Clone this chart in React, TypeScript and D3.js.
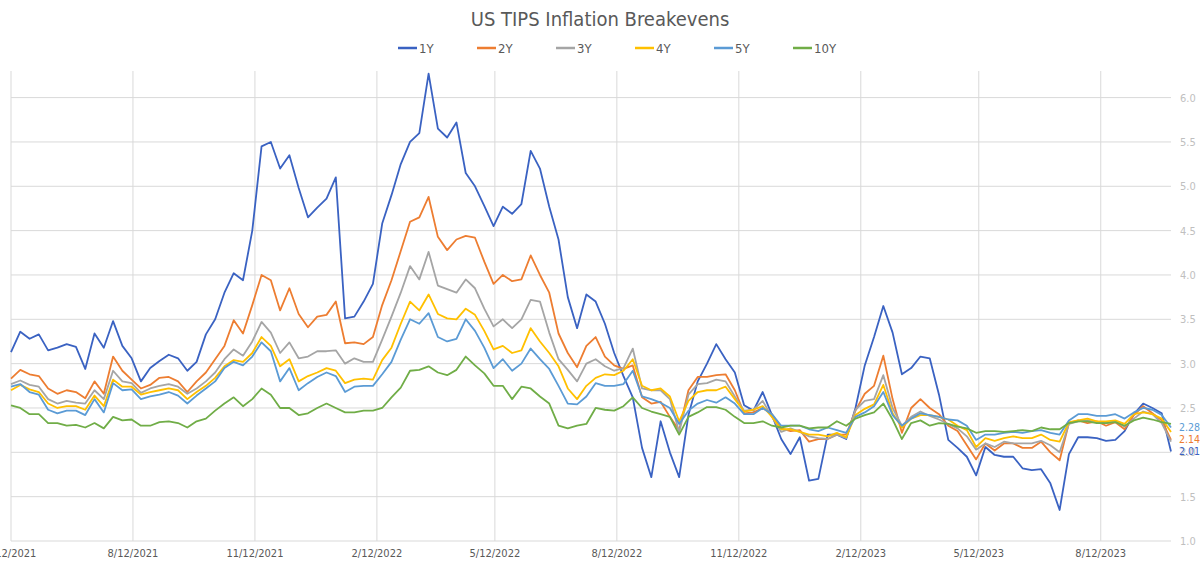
import React from 'react'
import * as d3 from 'd3'

// weekly readings, first one on 5/12/2021
const startDate = new Date(2021, 4, 12)

const oneY = [
  3.13, 3.36, 3.28, 3.33, 3.15, 3.18, 3.22, 3.19, 2.94, 3.34, 3.18,
  3.48, 3.2, 3.06, 2.8, 2.95, 3.03, 3.1, 3.06, 2.92, 3.02,
  3.33, 3.5, 3.8, 4.02, 3.94, 4.5, 5.45, 5.5, 5.2, 5.35,
  4.98, 4.65, 4.76, 4.86, 5.1, 3.51, 3.53, 3.7, 3.9, 4.58,
  4.9, 5.25, 5.5, 5.6, 6.27, 5.65, 5.55, 5.72, 5.15, 5.0,
  4.78, 4.55, 4.77, 4.69, 4.8, 5.4, 5.2, 4.77, 4.4, 3.75,
  3.4, 3.78, 3.7, 3.45, 3.12, 2.86, 2.62, 2.05, 1.72, 2.35,
  2.0, 1.72, 2.42, 2.8, 3.0, 3.22, 3.05, 2.9, 2.53, 2.47,
  2.68, 2.42, 2.15, 1.98, 2.17, 1.68, 1.7, 2.2, 2.2, 2.15,
  2.5, 2.98, 3.3, 3.65, 3.35, 2.88, 2.95, 3.08, 3.06, 2.65,
  2.14, 2.05, 1.95, 1.74, 2.06, 1.97, 1.95, 1.95, 1.82, 1.8,
  1.81, 1.65, 1.35, 1.98, 2.17, 2.17, 2.16, 2.13, 2.14, 2.24,
  2.43, 2.55, 2.5, 2.44, 2.01,
]

const twoY = [
  2.83, 2.93, 2.88, 2.86, 2.72, 2.66, 2.7, 2.68, 2.61, 2.8, 2.66,
  3.08, 2.92, 2.82, 2.72, 2.76, 2.84, 2.85, 2.8, 2.68, 2.8,
  2.9, 3.05, 3.2, 3.49, 3.34, 3.66, 4.0, 3.94, 3.6, 3.85,
  3.56, 3.41, 3.53, 3.55, 3.7, 3.23, 3.24, 3.22, 3.3, 3.66,
  3.94, 4.27, 4.6, 4.65, 4.88, 4.43, 4.28, 4.4, 4.44, 4.42,
  4.15, 3.9, 4.0, 3.93, 3.95, 4.22, 4.0, 3.8, 3.34, 3.12,
  2.96, 3.2, 3.3, 3.08, 2.98, 2.94, 2.98, 2.62, 2.55, 2.57,
  2.4, 2.25, 2.7, 2.85, 2.85, 2.87, 2.88, 2.7, 2.44, 2.45,
  2.5, 2.43, 2.27, 2.24, 2.25, 2.12, 2.15, 2.15, 2.2, 2.2,
  2.47, 2.66, 2.75, 3.09, 2.6, 2.22, 2.5, 2.6, 2.5, 2.43,
  2.3, 2.24, 2.08, 1.92, 2.1, 2.02, 2.1, 2.1, 2.05, 2.05,
  2.12, 2.0, 1.91, 2.33, 2.36, 2.33, 2.35, 2.3, 2.34, 2.26,
  2.42, 2.52, 2.44, 2.36, 2.14,
]

const threeY = [
  2.77, 2.81, 2.76, 2.74, 2.6, 2.55, 2.58, 2.56, 2.55, 2.7, 2.6,
  2.92, 2.8, 2.78, 2.67, 2.72, 2.75, 2.77, 2.74, 2.66, 2.72,
  2.8, 2.9, 3.05, 3.16, 3.09, 3.25, 3.47, 3.35, 3.12, 3.24,
  3.06, 3.08, 3.14, 3.14, 3.15, 3.0, 3.06, 3.02, 3.02, 3.27,
  3.53, 3.8, 4.1, 3.95, 4.26, 3.88, 3.84, 3.8, 3.95, 3.85,
  3.62, 3.42, 3.5, 3.4, 3.5, 3.72, 3.7, 3.35, 3.05, 2.93,
  2.8, 3.0, 3.05, 2.97, 2.92, 2.95, 3.17, 2.72, 2.7, 2.7,
  2.6, 2.23, 2.65, 2.77, 2.78, 2.82, 2.8, 2.63, 2.47, 2.48,
  2.58, 2.4, 2.23, 2.27, 2.23, 2.18, 2.16, 2.15, 2.2, 2.16,
  2.48, 2.58, 2.6, 2.87, 2.5, 2.3, 2.4, 2.46, 2.41, 2.37,
  2.32, 2.27, 2.18, 2.03, 2.1, 2.06, 2.12, 2.1, 2.1, 2.1,
  2.13, 2.08, 2.0, 2.32, 2.35, 2.36, 2.34, 2.33, 2.35, 2.29,
  2.38, 2.46, 2.43, 2.33, 2.12,
]

const fourY = [
  2.7, 2.76, 2.71, 2.68, 2.55, 2.5, 2.52, 2.52, 2.48, 2.64, 2.52,
  2.82, 2.74, 2.74, 2.65, 2.68, 2.7, 2.72, 2.7, 2.6, 2.68,
  2.75, 2.84, 2.97, 3.04, 3.02, 3.12, 3.3, 3.2, 2.97, 3.05,
  2.8, 2.86, 2.9, 2.95, 2.92, 2.78, 2.82, 2.83, 2.82, 3.04,
  3.18, 3.45, 3.7, 3.6, 3.78, 3.56, 3.51, 3.5, 3.62, 3.55,
  3.37, 3.16, 3.2, 3.12, 3.15, 3.4, 3.25, 3.12, 2.97, 2.72,
  2.6, 2.75, 2.84, 2.88, 2.87, 2.92, 3.05, 2.75, 2.7, 2.72,
  2.63, 2.35, 2.58, 2.68, 2.7, 2.7, 2.74, 2.6, 2.46, 2.48,
  2.52, 2.4, 2.26, 2.26, 2.23, 2.2, 2.2, 2.18, 2.22, 2.17,
  2.42, 2.49, 2.54, 2.76, 2.44, 2.28, 2.38, 2.42, 2.42, 2.4,
  2.37, 2.3, 2.25, 2.06, 2.16, 2.13, 2.16, 2.18, 2.16, 2.16,
  2.2, 2.14, 2.12, 2.34, 2.36, 2.38, 2.35, 2.35, 2.36, 2.32,
  2.43, 2.45, 2.43, 2.38, 2.23,
]

const fiveY = [
  2.74, 2.77, 2.68, 2.65, 2.48, 2.44, 2.47, 2.47, 2.42, 2.6, 2.45,
  2.78, 2.7, 2.71, 2.6, 2.63, 2.65, 2.68, 2.64, 2.55, 2.64,
  2.72, 2.8, 2.95, 3.02, 2.98, 3.08, 3.24, 3.14, 2.8, 2.95,
  2.7, 2.78, 2.85, 2.9, 2.86, 2.68, 2.74, 2.75, 2.75, 2.88,
  3.02, 3.27, 3.5, 3.45, 3.57, 3.3, 3.25, 3.28, 3.5, 3.37,
  3.18, 2.95, 3.05, 2.92, 3.0, 3.17, 3.05, 2.94, 2.75, 2.55,
  2.54, 2.63, 2.78, 2.75, 2.75, 2.77, 2.92, 2.63, 2.6, 2.56,
  2.5, 2.32, 2.47, 2.55, 2.59, 2.56, 2.62, 2.55, 2.43, 2.43,
  2.5, 2.43, 2.3, 2.3, 2.3, 2.26, 2.24, 2.28, 2.25, 2.22,
  2.4, 2.45, 2.52, 2.68, 2.42, 2.3, 2.38, 2.44, 2.42, 2.4,
  2.37, 2.36, 2.3, 2.14, 2.2, 2.2, 2.22, 2.23, 2.22, 2.24,
  2.25, 2.22, 2.2, 2.36, 2.43, 2.43, 2.41, 2.41, 2.43, 2.38,
  2.45, 2.5, 2.48, 2.42, 2.28,
]

const tenY = [
  2.53, 2.5, 2.43, 2.43, 2.33, 2.33, 2.3, 2.31, 2.28, 2.33, 2.27,
  2.4, 2.36, 2.37, 2.3, 2.3, 2.34, 2.35, 2.33, 2.28, 2.35,
  2.38, 2.47, 2.55, 2.62, 2.52, 2.6, 2.72, 2.65, 2.5, 2.5,
  2.42, 2.44, 2.5, 2.55, 2.5, 2.45, 2.45, 2.47, 2.47, 2.5,
  2.62, 2.73, 2.92, 2.93, 2.97, 2.9, 2.87, 2.93, 3.08, 2.98,
  2.89, 2.75, 2.75, 2.6, 2.74, 2.72, 2.63, 2.55, 2.3, 2.27,
  2.3, 2.32, 2.5, 2.48, 2.47, 2.52, 2.62, 2.5, 2.46, 2.43,
  2.4, 2.2, 2.4, 2.45, 2.51, 2.51, 2.48, 2.4, 2.33, 2.33,
  2.35, 2.3, 2.28, 2.3, 2.3, 2.27, 2.28, 2.28, 2.35, 2.3,
  2.38, 2.42, 2.45, 2.55, 2.37, 2.15, 2.33, 2.36, 2.3, 2.33,
  2.32, 2.29, 2.27, 2.22, 2.24, 2.24, 2.23, 2.24, 2.25, 2.24,
  2.28, 2.26, 2.26, 2.33, 2.35, 2.35, 2.33, 2.33, 2.34, 2.3,
  2.36, 2.39, 2.37, 2.34, 2.32,
]

const seriesNames = ['1Y', '2Y', '3Y', '4Y', '5Y', '10Y']
const seriesValues = [oneY, twoY, threeY, fourY, fiveY, tenY]
const seriesColors = ['#3A62C2', '#ED7D31', '#A5A5A5', '#FFC000', '#5B9BD5', '#70AD47']

const xTickLabels = [
  '5/12/2021', '8/12/2021', '11/12/2021', '2/12/2022', '5/12/2022',
  '8/12/2022', '11/12/2022', '2/12/2023', '5/12/2023', '8/12/2023',
]
const yTickValues = [1.0, 1.5, 2.0, 2.5, 3.0, 3.5, 4.0, 4.5, 5.0, 5.5, 6.0]

// series that carry a label on their last point
const labelledSeries = ['5Y', '2Y', '1Y']

const font = "'Liberation Sans Narrow', 'DejaVu Sans Condensed', 'DejaVu Sans', sans-serif"

export default function App() {
  const width = 1200
  const height = 566
  const left = 11
  const right = 1171

  const dates = oneY.map((_, i) => d3.timeDay.offset(startDate, i * 7))
  const parse = d3.timeParse('%m/%d/%Y')

  const x = d3.scaleTime()
    .domain([startDate, dates[dates.length - 1]])
    .range([left, right])
  const y = d3.scaleLinear()
    .domain([1, 6.3])
    .range([541, 71])

  const line = d3.line<number>()
    .x((d, i) => x(dates[i]))
    .y(d => y(d))

  const lastX = x(dates[dates.length - 1])

  return (
    <div style={{ position: 'absolute', left: 0, top: 0 }}>
      <svg width={width} height={height} style={{ display: 'block', background: '#fff' }}>
        <text x={600} y={26} textAnchor="middle" fontFamily={font} fontSize={20} fill="#595959">
          US TIPS Inflation Breakevens
        </text>

        {/* legend */}
        <g>
          {seriesNames.map((name, i) => {
            const lx = 398 + i * 79
            return (
              <g key={name}>
                <line x1={lx} x2={lx + 19} y1={48} y2={48} stroke={seriesColors[i]} strokeWidth={2.5} />
                <text x={lx + 21} y={52.5} fontFamily={font} fontSize={13} fill="#595959">{name}</text>
              </g>
            )
          })}
        </g>

        {/* grid */}
        <g>
          {yTickValues.map(v => (
            <line key={'h' + v} x1={left} x2={right} y1={y(v)} y2={y(v)} stroke="#D9D9D9" strokeWidth={1} />
          ))}
          {xTickLabels.map(t => {
            const px = x(parse(t) as Date)
            return (
              <line key={'v' + t} x1={px} x2={px} y1={y.range()[1]} y2={y(1)} stroke="#D9D9D9" strokeWidth={1} />
            )
          })}
        </g>

        {/* y tick labels on the right */}
        <g>
          {yTickValues.map(v => (
            <text key={'yt' + v} x={1180} y={y(v) + 4} fontFamily={font} fontSize={11} fill="#BFBFBF">
              {d3.format('.1f')(v)}
            </text>
          ))}
        </g>

        {/* x tick labels */}
        <g>
          {xTickLabels.map(t => (
            <text key={'xt' + t} x={x(parse(t) as Date)} y={557} textAnchor="middle" fontFamily={font} fontSize={11} fill="#595959">
              {t}
            </text>
          ))}
        </g>

        {/* series */}
        <g>
          {seriesValues.map((vals, i) => (
            <path key={seriesNames[i]} d={line(vals) || ''} fill="none" stroke={seriesColors[i]} strokeWidth={1.8} strokeLinejoin="round" />
          ))}
        </g>

        {/* last-value labels */}
        <g>
          {labelledSeries.map(name => {
            const i = seriesNames.indexOf(name)
            const vals = seriesValues[i]
            const last = vals[vals.length - 1]
            return (
              <text key={'lab' + name} x={lastX + 8} y={y(last) + 3.5} fontFamily={font} fontSize={10.5} fill={seriesColors[i]}>
                {d3.format('.2f')(last)}
              </text>
            )
          })}
        </g>
      </svg>
    </div>
  )
}
